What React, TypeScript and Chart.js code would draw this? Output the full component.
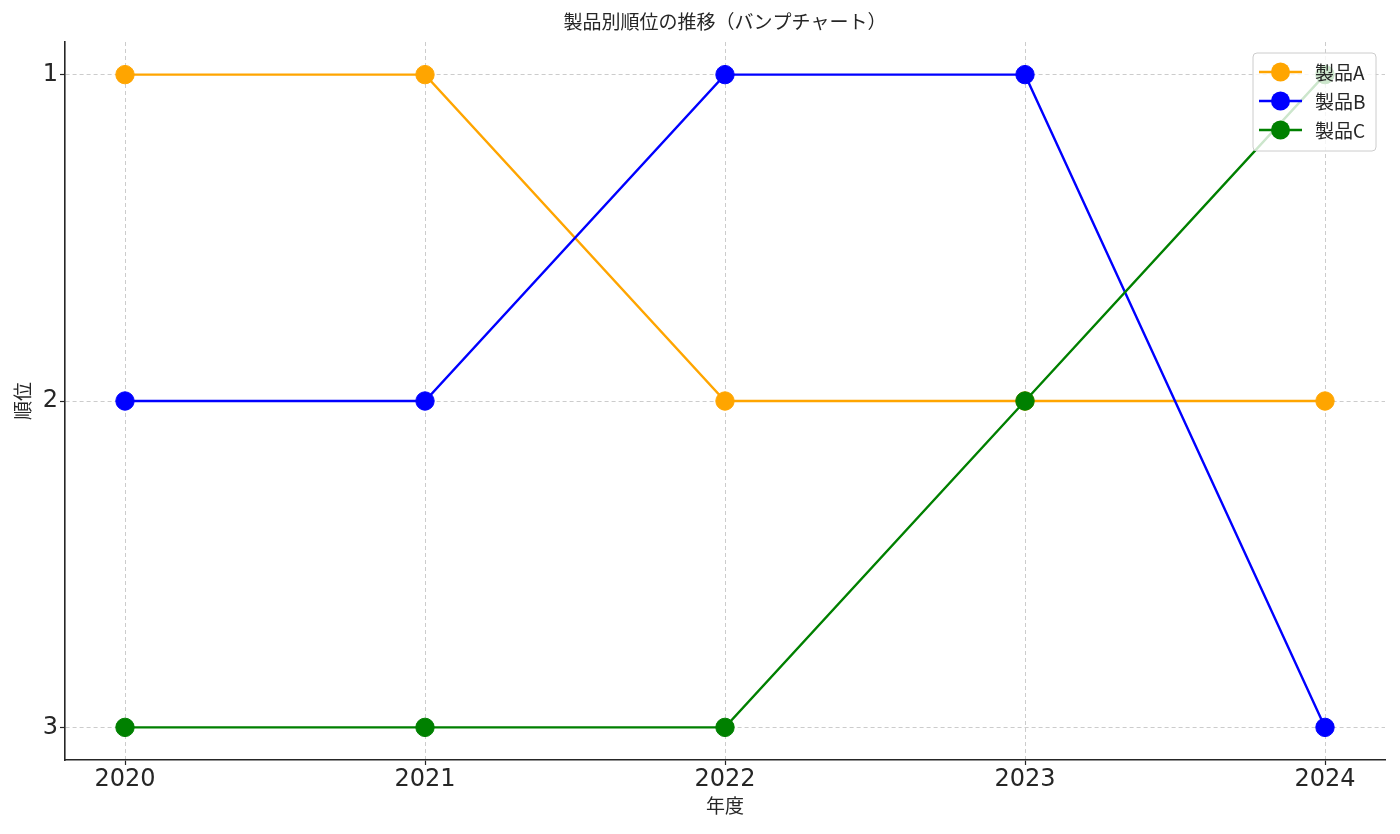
import React, { useEffect, useRef } from "react";
import { Chart, registerables } from "chart.js";

Chart.register(...registerables);

const years = ["2020", "2021", "2022", "2023", "2024"];
const rankLabels = ["1", "2", "3"];
const productA = [1, 1, 2, 2, 2];
const productB = [2, 2, 1, 1, 3];
const productC = [3, 3, 3, 2, 1];
const seriesNames = ["製品A", "製品B", "製品C"];
const seriesColors = ["#FFA500", "#0000FF", "#008000"];

const titleText = "製品別順位の推移（バンプチャート）";
const xTitle = "年度";
const yTitle = "順位";

const CJK = "'Noto Sans CJK JP', 'Noto Sans', sans-serif";
const TICK_FONT = "'DejaVu Sans', sans-serif";

const overlayPlugin = {
  id: "overlay",
  afterDraw(chart: any) {
    const { ctx, chartArea } = chart;
    const cx = (chartArea.left + chartArea.right) / 2;
    const cy = (chartArea.top + chartArea.bottom) / 2;
    ctx.save();
    ctx.fillStyle = "#262626";
    ctx.font = `19px ${CJK}`;
    ctx.textAlign = "center";
    ctx.textBaseline = "middle";
    ctx.fillText(titleText, cx, 22);
    ctx.fillText(xTitle, cx, 806);
    ctx.save();
    ctx.translate(23, cy);
    ctx.rotate(-Math.PI / 2);
    ctx.fillText(yTitle, 0, 0);
    ctx.restore();

    // legend box
    const bx = 1253, by = 53, bw = 123, bh = 98, r = 4;
    ctx.beginPath();
    ctx.moveTo(bx + r, by);
    ctx.lineTo(bx + bw - r, by);
    ctx.arcTo(bx + bw, by, bx + bw, by + r, r);
    ctx.lineTo(bx + bw, by + bh - r);
    ctx.arcTo(bx + bw, by + bh, bx + bw - r, by + bh, r);
    ctx.lineTo(bx + r, by + bh);
    ctx.arcTo(bx, by + bh, bx, by + bh - r, r);
    ctx.lineTo(bx, by + r);
    ctx.arcTo(bx, by, bx + r, by, r);
    ctx.closePath();
    ctx.fillStyle = "rgba(255,255,255,0.8)";
    ctx.fill();
    ctx.strokeStyle = "#cccccc";
    ctx.lineWidth = 1;
    ctx.stroke();

    seriesNames.forEach((name, i) => {
      const y = 72 + i * 29;
      ctx.strokeStyle = seriesColors[i];
      ctx.lineWidth = 2.4;
      ctx.beginPath();
      ctx.moveTo(1259, y);
      ctx.lineTo(1302, y);
      ctx.stroke();
      ctx.fillStyle = seriesColors[i];
      ctx.beginPath();
      ctx.arc(1280.5, y, 9.5, 0, Math.PI * 2);
      ctx.fill();
      ctx.fillStyle = "#262626";
      ctx.font = `19px ${CJK}`;
      ctx.textAlign = "left";
      ctx.textBaseline = "middle";
      ctx.fillText(name, 1315, y + 1);
    });
    ctx.restore();
  },
};

export default function App() {
  const ref = useRef<HTMLCanvasElement>(null);
  useEffect(() => {
    document.body.style.margin = "0";
    const series = [productA, productB, productC];
    const chart = new Chart(ref.current as HTMLCanvasElement, {
      type: "line",
      data: {
        datasets: series.map((vals, i) => ({
          label: seriesNames[i],
          data: vals.map((v, j) => ({ x: j, y: v })),
          borderColor: seriesColors[i],
          backgroundColor: seriesColors[i],
          pointBackgroundColor: seriesColors[i],
          pointBorderColor: seriesColors[i],
          pointRadius: 9.2,
          pointBorderWidth: 1,
          borderWidth: 2.4,
          tension: 0,
          order: 3 - i,
        })),
      },
      options: {
        animation: false,
        responsive: false,
        devicePixelRatio: 1,
        layout: { padding: { top: 42, right: 15, left: 0, bottom: 0 } },
        plugins: {
          legend: { display: false },
          title: { display: false },
          tooltip: { enabled: false },
        },
        scales: {
          x: {
            type: "linear",
            min: -0.2,
            max: 4.2,
            afterBuildTicks: (s: any) => {
              s.ticks = years.map((_, i) => ({ value: i }));
            },
            afterFit: (s: any) => {
              s.height = 74;
            },
            ticks: {
              callback: (v: any) => years[v] ?? "",
              color: "#262626",
              font: { family: TICK_FONT, size: 24 },
              padding: 0,
              maxRotation: 0,
            },
            grid: {
              color: "#cccccc",
              lineWidth: 1,
              tickColor: "#262626",
              tickLength: 5,
              tickWidth: 1.2,
              tickBorderDash: [],
            },
            border: { display: true, color: "#262626", width: 1.6, dash: [4, 3] },
          },
          y: {
            type: "linear",
            reverse: true,
            min: 0.9,
            max: 3.1,
            afterBuildTicks: (s: any) => {
              s.ticks = rankLabels.map((l) => ({ value: Number(l) }));
            },
            afterFit: (s: any) => {
              s.width = 65;
            },
            ticks: {
              callback: (v: any) => String(v),
              color: "#262626",
              font: { family: TICK_FONT, size: 24 },
              padding: 2,
            },
            grid: {
              color: "#cccccc",
              lineWidth: 1,
              tickColor: "#262626",
              tickLength: 5,
              tickWidth: 1.2,
              tickBorderDash: [],
            },
            border: { display: true, color: "#262626", width: 1.6, dash: [4, 3] },
          },
        },
      } as any,
      plugins: [overlayPlugin],
    });
    return () => chart.destroy();
  }, []);
  return (
    <div style={{ width: 1400, height: 834 }}>
      <canvas ref={ref} width={1400} height={834} />
    </div>
  );
}
